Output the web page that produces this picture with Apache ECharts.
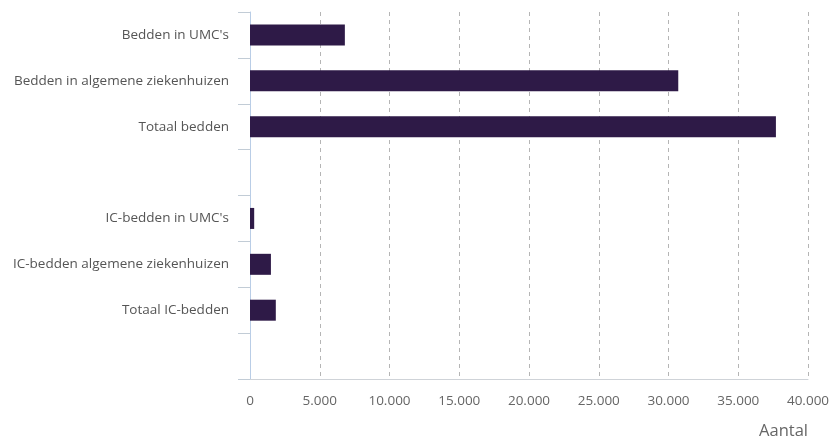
<!DOCTYPE html>
<html>
<head>
<meta charset="utf-8">
<script src="https://cdn.jsdelivr.net/npm/echarts@6/dist/echarts.min.js"></script>
<style>
html,body{margin:0;padding:0;background:#fff;}
#chart{width:836px;height:446px;}
</style>
</head>
<body>
<div id="chart"></div>
<script>
var categories = ["Bedden in UMC's", "Bedden in algemene ziekenhuizen", "Totaal bedden", " ", "IC-bedden in UMC's", "IC-bedden algemene ziekenhuizen", "Totaal IC-bedden", "  "];
var values = [6800, 30700, 37700, null, 300, 1500, 1850, null];
var xTicks = [0, 5000, 10000, 15000, 20000, 25000, 30000, 35000, 40000];
var xName = "Aantal";

function fmt(v) {
  return String(v).replace(/\B(?=(\d{3})+(?!\d))/g, '.');
}

var chart = echarts.init(document.getElementById('chart'));
chart.setOption({
  animation: false,
  textStyle: { fontFamily: 'Open Sans' },
  grid: { left: 250, right: 28, top: 12, bottom: 67, containLabel: false },
  xAxis: {
    type: 'value',
    min: xTicks[0],
    max: xTicks[xTicks.length - 1],
    interval: xTicks[1] - xTicks[0],
    name: xName,
    nameLocation: 'end',
    nameGap: 0,
    nameTextStyle: { color: '#666', fontSize: 16.5, align: 'right', verticalAlign: 'top', padding: [44, 0, 0, 0] },
    axisLine: { show: true, lineStyle: { color: '#cfd3d8', width: 1 } },
    axisTick: { show: false },
    axisLabel: { color: '#666', fontSize: 13.5, margin: 15, formatter: fmt },
    splitLine: { show: true, lineStyle: { type: [4, 4], color: '#b5b5b5', width: 1 } }
  },
  yAxis: {
    type: 'category',
    inverse: true,
    data: categories,
    axisLine: { show: true, lineStyle: { color: '#b9cde6', width: 1 } },
    axisTick: { show: true, length: 12, lineStyle: { color: '#c2ccd6' } },
    axisLabel: { color: '#555', fontSize: 13.5, margin: 21 },
    splitLine: { show: false }
  },
  series: [{
    type: 'bar',
    data: values,
    barWidth: 21,
    itemStyle: { color: '#2e1a47' }
  }]
});
</script>
</body>
</html>
